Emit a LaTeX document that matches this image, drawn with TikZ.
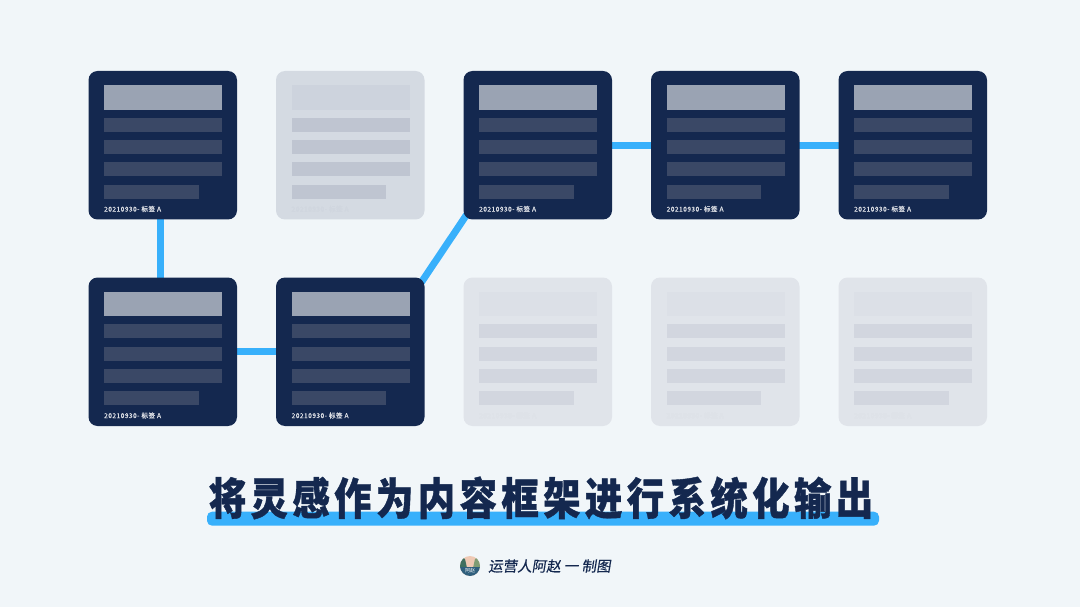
\documentclass[tikz,border=0pt]{standalone}
\usepackage{fontspec}
\usetikzlibrary{backgrounds}
\setmainfont{Noto Sans CJK SC}
\newfontfamily\titlefont[FakeBold=0.9,FakeStretch=0.85,LetterSpace=10]{Noto Sans CJK SC Black}
\newfontfamily\signfont[FakeSlant=0.16,FakeBold=0.4]{Noto Sans CJK SC}
\newfontfamily\datefont[FakeBold=0.3,LetterSpace=7]{Noto Sans CJK SC}
\definecolor{PageBg}{HTML}{F1F6F9}
\definecolor{Navy}{HTML}{14284F}
\definecolor{LineBlue}{HTML}{38B0FB}
\definecolor{DarkHead}{HTML}{9AA3B3}
\definecolor{DarkBar}{HTML}{3A4866}
\definecolor{DarkText}{HTML}{DDE0E6}
\definecolor{GreyCard}{HTML}{D4DAE2}
\definecolor{GreyHead}{HTML}{CDD3DD}
\definecolor{GreyBar}{HTML}{BFC5D1}
\definecolor{GreyText}{HTML}{D0D6DF}
\definecolor{PaleCard}{HTML}{E0E4EA}
\definecolor{PaleHead}{HTML}{DCE0E7}
\definecolor{PaleBar}{HTML}{D2D6DF}
\definecolor{PaleText}{HTML}{DEE2E8}
\definecolor{AvatarSky}{HTML}{EFC9B4}
\definecolor{AvatarTree}{HTML}{3F6F5F}
\definecolor{AvatarHill}{HTML}{7F9C74}
\definecolor{AvatarBase}{HTML}{2F5F7D}
\tikzset{
  cardbox/.style={rectangle,rounded corners=9pt,minimum width=148.5pt,minimum height=148.5pt,inner sep=0pt},
  barbox/.style={anchor=north west,inner sep=0pt,minimum height=14.3pt},
  headbox/.style={anchor=north west,inner sep=0pt,minimum height=24.6pt,minimum width=118pt},
  linkline/.style={line width=7pt,LineBlue},
  datelabel/.style={anchor=west,inner sep=0pt,font=\datefont\fontsize{6.6}{7}\selectfont}
}
% one card: name, left, top, card / head / bar / text colours
\newcommand{\drawcard}[7]{%
  \node[cardbox,fill=#4] (#1) at (#2+74.25,#3+74.25) {};
  \node[headbox,fill=#5] (#1head) at (#2+15.4,#3+14) {};
  \foreach \barrow/\barw in {46.4/118,69/118,91/118,113.4/94.5}
    \node[barbox,fill=#6,minimum width=\barw pt] at (#2+15.7,#3+\barrow) {};
  \node[datelabel,text=#7] (#1date) at (#2+15.5,#3+138) {20210930- 标签 A};
}
\begin{document}
\begin{tikzpicture}[x=1pt,y=1pt,yscale=-1,xscale=1]
  \useasboundingbox (0,0) rectangle (1080,607);

  % dark cards
  \drawcard{first}{88.5}{71}{Navy}{DarkHead}{DarkBar}{DarkText}
  \drawcard{third}{463.5}{71}{Navy}{DarkHead}{DarkBar}{DarkText}
  \drawcard{fourth}{651}{71}{Navy}{DarkHead}{DarkBar}{DarkText}
  \drawcard{fifth}{838.5}{71}{Navy}{DarkHead}{DarkBar}{DarkText}
  \drawcard{sixth}{88.5}{277.5}{Navy}{DarkHead}{DarkBar}{DarkText}
  \drawcard{seventh}{276}{277.5}{Navy}{DarkHead}{DarkBar}{DarkText}

  % faded cards
  \drawcard{second}{276}{71}{GreyCard}{GreyHead}{GreyBar}{GreyText}
  \drawcard{eighth}{463.5}{277.5}{PaleCard}{PaleHead}{PaleBar}{PaleText}
  \drawcard{ninth}{651}{277.5}{PaleCard}{PaleHead}{PaleBar}{PaleText}
  \drawcard{tenth}{838.5}{277.5}{PaleCard}{PaleHead}{PaleBar}{PaleText}

  % page colour and links run behind the cards
  \begin{scope}[on background layer]
    \fill[PageBg] (0,0) rectangle (1080,607);
    \draw[linkline,shorten <=-3pt,shorten >=-3pt] ([xshift=-2.25pt]first.south) -- ([xshift=-2.25pt]sixth.north);
    \draw[linkline,shorten <=-3pt,shorten >=-3pt] (sixth.east) -- (seventh.west);
    \draw[linkline,shorten <=-6pt,shorten >=-6pt] (seventh.north east) -- (third.south west);
    \draw[linkline,shorten <=-3pt,shorten >=-3pt] (third.east) -- (fourth.west);
    \draw[linkline,shorten <=-3pt,shorten >=-3pt] (fourth.east) -- (fifth.west);
  \end{scope}

  % title and its underline
  \node[rectangle,rounded corners=5pt,fill=LineBlue,minimum width=672pt,minimum height=14pt,inner sep=0pt] (underline) at (543,518.7) {};
  \node[inner sep=0pt,text=Navy,font=\titlefont\fontsize{44}{46}\selectfont] (title) at (541,498) {将灵感作为内容框架进行系统化输出};

  % signature
  \node[circle,minimum size=20pt,inner sep=0pt,fill=AvatarSky] (avatar) at (470,566) {};
  \begin{scope}
    \clip (avatar.center) circle (10pt);
    \fill[AvatarTree] (460,556) -- (465,559) -- (467,568) -- (460,568) -- cycle;
    \fill[AvatarHill] (480,556) -- (475,559) -- (473,568) -- (480,568) -- cycle;
    \fill[AvatarBase] (460,566.5) rectangle (480,576);
  \end{scope}
  \node[inner sep=0pt,text=white,font=\fontsize{5}{5}\selectfont] (avatartext) at (470,570.5) {阿赵};
  \node[anchor=west,inner sep=0pt,text=Navy,font=\signfont\fontsize{14.5}{16}\selectfont] (sign) at (488,566) {运营人阿赵 一 制图};
\end{tikzpicture}
\end{document}
